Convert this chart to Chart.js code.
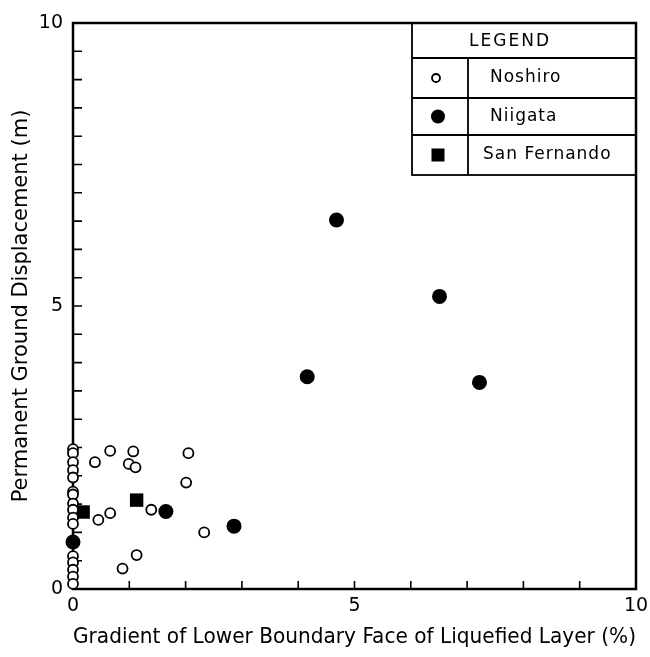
<!DOCTYPE html>
<html>
<head>
<meta charset="utf-8">
<script src="https://cdn.jsdelivr.net/npm/chart.js@4/dist/chart.umd.min.js"></script>
<style>
  html, body { margin: 0; padding: 0; background: #fff; }
  #wrap { width: 650px; height: 657px; }
</style>
</head>
<body>
<div id="wrap"><canvas id="chart" width="650" height="657"></canvas></div>
<script>
// Noshiro (open circles)
const noshiroX = [0, 0, 0, 0, 0, 0, 0, 0, 0, 0, 0, 0, 0, 0, 0, 0,
  0.66, 1.07, 2.05, 0.39, 0.99, 1.11, 2.01, 1.39, 0.66, 0.45, 2.33, 1.13, 0.88];
const noshiroY = [2.47, 2.40, 2.24, 2.10, 1.97, 1.72, 1.67, 1.51, 1.40, 1.26, 1.15, 0.58, 0.47, 0.34, 0.22, 0.09,
  2.44, 2.43, 2.40, 2.24, 2.21, 2.15, 1.88, 1.40, 1.34, 1.22, 1.00, 0.60, 0.36];

// Niigata (filled circles)
const niigataX = [4.68, 6.51, 4.16, 7.22, 1.65, 2.86, 0.0];
const niigataY = [6.52, 5.17, 3.75, 3.65, 1.37, 1.11, 0.83];

// San Fernando (filled squares)
const sanFernandoX = [0.18, 1.13];
const sanFernandoY = [1.36, 1.57];

const labeledTicks = [0, 5, 10];
const legendLabels = ["Noshiro", "Niigata", "San Fernando"];

const toPoints = (xs, ys) => xs.map((x, i) => ({ x: x, y: ys[i] }));

const FONT = "'DejaVu Sans', 'Liberation Sans', sans-serif";

const setSpacing = (ctx, s) => { if ("letterSpacing" in ctx) ctx.letterSpacing = s; };

// frame with inward ticks, drawn under the marks
const framePlugin = {
  id: "frame",
  beforeDatasetsDraw(chart) {
    const ctx = chart.ctx;
    const area = chart.chartArea;
    const xs = chart.scales.x;
    const ys = chart.scales.y;
    ctx.save();
    ctx.strokeStyle = "#000";
    ctx.lineWidth = 2.5;
    ctx.strokeRect(area.left, area.top, area.right - area.left, area.bottom - area.top);

    ctx.lineWidth = 1.6;
    ctx.beginPath();
    for (let v = 0.5; v < 10; v += 0.5) {
      const py = ys.getPixelForValue(v);
      ctx.moveTo(area.left, py);
      ctx.lineTo(area.left + 9, py);
    }
    for (let v = 1; v < 10; v += 1) {
      const px = xs.getPixelForValue(v);
      ctx.moveTo(px, area.bottom);
      ctx.lineTo(px, area.bottom - 8);
    }
    ctx.stroke();
    ctx.restore();
  },
  // boxed legend table in the top right corner
  afterDraw(chart) {
    const ctx = chart.ctx;
    const area = chart.chartArea;
    const L = area.right - 224, R = area.right, T = area.top;
    const rows = [T + 35, T + 75, T + 112, T + 152];
    const divX = L + 56;
    ctx.save();
    ctx.strokeStyle = "#000";
    ctx.fillStyle = "#000";
    ctx.lineWidth = 1.8;
    ctx.strokeRect(L, T, R - L, rows[3] - T);
    ctx.beginPath();
    for (let i = 0; i < 3; i++) {
      ctx.moveTo(L, rows[i]);
      ctx.lineTo(R, rows[i]);
    }
    ctx.moveTo(divX, rows[0]);
    ctx.lineTo(divX, rows[3]);
    ctx.stroke();

    ctx.textBaseline = "middle";
    ctx.textAlign = "center";
    ctx.font = "17px " + FONT;
    setSpacing(ctx, "2px");
    ctx.fillText("LEGEND", L + 98, (T + rows[0]) / 2 + 1);

    setSpacing(ctx, "1px");
    ctx.textAlign = "left";
    const mx = L + 24;
    for (let i = 0; i < 3; i++) {
      const cy = (rows[i] + rows[i + 1]) / 2;
      ctx.fillText(legendLabels[i], divX + (i === 2 ? 15 : 22), cy);
      ctx.beginPath();
      if (i === 0) {
        ctx.lineWidth = 1.8;
        ctx.arc(mx, cy, 4, 0, Math.PI * 2);
        ctx.stroke();
      } else if (i === 1) {
        ctx.arc(mx + 2, cy, 7, 0, Math.PI * 2);
        ctx.fill();
      } else {
        ctx.fillRect(mx + 2 - 6.5, cy - 6.5, 13, 13);
      }
    }
    ctx.restore();
  }
};

new Chart(document.getElementById("chart").getContext("2d"), {
  type: "scatter",
  data: {
    datasets: [
      {
        label: "Noshiro",
        data: toPoints(noshiroX, noshiroY),
        pointStyle: "circle",
        pointRadius: 5,
        borderWidth: 1.8,
        borderColor: "#000",
        backgroundColor: "#fff",
        clip: false,
      },
      {
        label: "Niigata",
        data: toPoints(niigataX, niigataY),
        pointStyle: "circle",
        pointRadius: 7.5,
        borderWidth: 0,
        borderColor: "#000",
        backgroundColor: "#000",
        clip: false,
      },
      {
        label: "San Fernando",
        data: toPoints(sanFernandoX, sanFernandoY),
        pointStyle: "rect",
        pointRadius: 9.5,
        borderWidth: 0,
        borderColor: "#000",
        backgroundColor: "#000",
        clip: false,
      },
    ],
  },
  options: {
    responsive: false,
    animation: false,
    events: [],
    layout: { padding: { top: 23, right: 14, left: 0, bottom: 0 } },
    plugins: {
      legend: { display: false },
      tooltip: { enabled: false },
    },
    scales: {
      x: {
        type: "linear",
        min: 0,
        max: 10,
        grid: { display: false, drawTicks: false },
        border: { display: false },
        afterFit: (scale) => {
          scale.height = 68;
          scale.paddingLeft = 0;
          scale.paddingRight = 0;
        },
        ticks: {
          stepSize: 1,
          autoSkip: false,
          maxRotation: 0,
          padding: 6,
          color: "#000",
          font: { family: FONT, size: 19 },
          callback: (v) => (labeledTicks.includes(v) ? String(v) : ""),
        },
        title: {
          display: true,
          text: "Gradient of Lower Boundary Face of Liquefied Layer (%)",
          color: "#000",
          font: { family: FONT, size: 21 },
          padding: { top: 0, bottom: 7 },
        },
      },
      y: {
        type: "linear",
        min: 0,
        max: 10,
        grid: { display: false, drawTicks: false },
        border: { display: false },
        afterFit: (scale) => { scale.width = 73; },
        ticks: {
          stepSize: 0.5,
          autoSkip: false,
          padding: 10,
          color: "#000",
          font: { family: FONT, size: 19 },
          callback: (v) => (labeledTicks.includes(v) ? String(v) : ""),
        },
        title: {
          display: true,
          text: "Permanent Ground Displacement (m)",
          color: "#000",
          font: { family: FONT, size: 21 },
          padding: { top: 9, bottom: 0 },
        },
      },
    },
  },
  plugins: [framePlugin],
});
</script>
</body>
</html>
